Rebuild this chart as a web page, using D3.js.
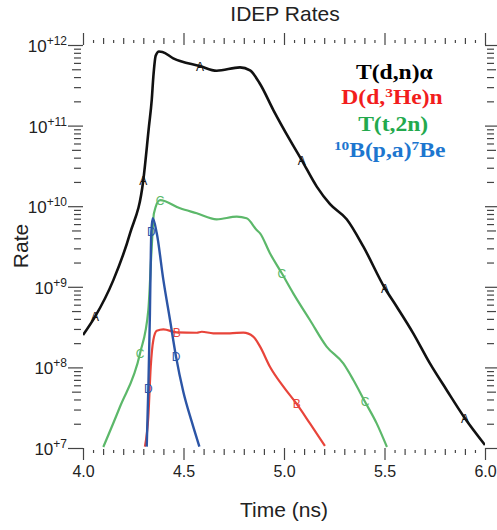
<!DOCTYPE html>
<html>
<head>
<meta charset="utf-8">
<script src="https://cdn.jsdelivr.net/npm/d3@7"></script>
<style>
  body { margin: 0; background: #fff; }
  svg { display: block; }
</style>
</head>
<body>
<svg width="497" height="530"></svg>
<script>
// time (ns) / rate values
const tdnTime = [4.000, 4.060, 4.151, 4.234, 4.300, 4.328, 4.342, 4.350, 4.362, 4.378, 4.395, 4.449, 4.582, 4.665, 4.781, 4.831,
                 4.881, 4.947, 5.030, 5.088, 5.163, 5.229, 5.312, 5.395, 5.502, 5.561, 5.643, 5.726, 5.809, 5.900, 6.000];
const tdnRate = [2.52e8, 4.26e8, 1.21e9, 4.6e9, 2.1e10, 9.7e10, 2.08e11, 4.05e11, 7.4e11, 8.3e11, 8.2e11, 6.84e11, 5.48e11, 4.80e11, 5.28e11, 4.83e11,
                 3.28e11, 1.56e11, 6.6e10, 3.74e10, 1.75e10, 1.06e10, 6.9e9, 3.15e9, 9.6e8, 5.66e8, 2.65e8, 1.12e8, 5.25e7, 2.34e7, 1.09e7];
const tdnMarks = [1, 4, 12, 19, 24, 29];

const ddTime = [4.308, 4.325, 4.337, 4.350, 4.367, 4.400, 4.466, 4.566, 4.591, 4.648, 4.731, 4.798, 4.847, 4.881, 4.930,
                4.997, 5.063, 5.129, 5.204];
const ddRate = [1.04e7, 2.44e7, 1.02e8, 2.19e8, 2.85e8, 2.97e8, 2.72e8, 2.69e8, 2.77e8, 2.65e8, 2.65e8, 2.70e8, 2.41e8, 1.81e8, 1.02e8,
                5.77e7, 3.52e7, 2.02e7, 1.06e7];
const ddMarks = [6, 16];

const ttTime = [4.101, 4.184, 4.284, 4.325, 4.342, 4.353, 4.383, 4.483, 4.566, 4.665, 4.765, 4.814, 4.864, 4.881, 4.930,
                4.989, 5.046, 5.129, 5.212, 5.295, 5.345, 5.403, 5.461, 5.512];
const ttRate = [1.03e7, 3.25e7, 1.50e8, 5.15e8, 3.15e9, 8.17e9, 1.19e10, 9.42e9, 8.17e9, 6.88e9, 7.41e9, 7.08e9, 5.07e9, 4.6e9, 2.61e9,
                1.47e9, 8.3e8, 3.87e8, 1.81e8, 1.12e8, 6.98e7, 3.75e7, 2.02e7, 1.03e7];
const ttMarks = [2, 6, 15, 21];

const bpTime = [4.317, 4.325, 4.333, 4.338, 4.340, 4.347, 4.367, 4.400, 4.433, 4.463, 4.499, 4.541, 4.579];
const bpRate = [1.04e7, 5.51e7, 4.69e8, 3.15e9, 4.83e9, 7.08e9, 4.61e9, 1.21e9, 3.87e8, 1.35e8, 5.0e7, 2.12e7, 1.04e7];
const bpMarks = [1, 4, 9];

const xMajor = [4.0, 4.5, 5.0, 5.5, 6.0];
const yMajor = [1e7, 1e8, 1e9, 1e10, 1e11, 1e12];

const series = [
    { time: tdnTime, rate: tdnRate, marks: tdnMarks, letter: 'A', color: '#111', width: 2.6 },
    { time: ttTime, rate: ttRate, marks: ttMarks, letter: 'C', color: '#5cb86a', width: 2.2 },
    { time: ddTime, rate: ddRate, marks: ddMarks, letter: 'B', color: '#e8443a', width: 2.2 },
    { time: bpTime, rate: bpRate, marks: bpMarks, letter: 'D', color: '#2c55a6', width: 2.4 }
];

function render() {
    const svg = d3.select('svg');
    const left = 83, right = 485, top = 45, bottom = 448;

    const x = d3.scaleLinear().domain([4, 6]).range([left, right]);
    const y = d3.scaleLog().domain([1e7, 1e12]).range([bottom, top]);

    // x ticks: every 0.05, longer every 0.1, longest every 0.5
    const xAll = x.ticks(40);
    const isMult = (v, s) => Math.abs(v / s - Math.round(v / s)) < 1e-6;
    const xMid = xAll.filter(v => isMult(v, 0.1) && !isMult(v, 0.5));
    const xSmall = xAll.filter(v => !isMult(v, 0.1));

    // log minor ticks 2..9 per decade
    const yMinor = [];
    yMajor.slice(0, -1).forEach(d => { for (let k = 2; k <= 9; k++) yMinor.push(d * k); });
    const yMid = yMinor.filter(v => Math.round(v / Math.pow(10, Math.floor(Math.log10(v) + 1e-9))) === 5);
    const ySmall = yMinor.filter(v => !yMid.includes(v));

    const tickStyle = g => {
        g.select('.domain').remove();
        g.selectAll('line').attr('stroke', '#444').attr('stroke-width', 1.2);
    };

    // bottom
    svg.append('g').attr('transform', `translate(0,${bottom})`)
        .call(d3.axisBottom(x).tickValues(xMajor).tickSize(12).tickPadding(6).tickFormat(d3.format('.1f')))
        .call(tickStyle)
        .selectAll('text').attr('font-family', 'Liberation Sans, Arial, sans-serif').attr('font-size', 16).attr('fill', '#222');
    svg.append('g').attr('transform', `translate(0,${bottom + 1})`)
        .call(d3.axisBottom(x).tickValues(xMid).tickSize(6).tickFormat('')).call(tickStyle);
    svg.append('g').attr('transform', `translate(0,${bottom + 2})`)
        .call(d3.axisBottom(x).tickValues(xSmall).tickSize(3).tickFormat('')).call(tickStyle);

    // top
    svg.append('g').attr('transform', `translate(0,${top})`)
        .call(d3.axisTop(x).tickValues(xMajor).tickSize(12).tickFormat('')).call(tickStyle);
    svg.append('g').attr('transform', `translate(0,${top - 1})`)
        .call(d3.axisTop(x).tickValues(xMid).tickSize(6).tickFormat('')).call(tickStyle);
    svg.append('g').attr('transform', `translate(0,${top - 2})`)
        .call(d3.axisTop(x).tickValues(xSmall).tickSize(3).tickFormat('')).call(tickStyle);

    // left
    svg.append('g').attr('transform', `translate(${left},0)`)
        .call(d3.axisLeft(y).tickValues(yMajor).tickSize(15).tickFormat('')).call(tickStyle);
    svg.append('g').attr('transform', `translate(${left - 2},0)`)
        .call(d3.axisLeft(y).tickValues(yMid).tickSize(9).tickFormat('')).call(tickStyle);
    svg.append('g').attr('transform', `translate(${left - 2},0)`)
        .call(d3.axisLeft(y).tickValues(ySmall).tickSize(7).tickFormat('')).call(tickStyle);

    // right
    svg.append('g').attr('transform', `translate(${right},0)`)
        .call(d3.axisRight(y).tickValues(yMajor).tickSize(14).tickFormat('')).call(tickStyle);
    svg.append('g').attr('transform', `translate(${right + 2},0)`)
        .call(d3.axisRight(y).tickValues(yMid).tickSize(9).tickFormat('')).call(tickStyle);
    svg.append('g').attr('transform', `translate(${right + 2},0)`)
        .call(d3.axisRight(y).tickValues(ySmall).tickSize(7).tickFormat('')).call(tickStyle);

    // y labels 10^+n
    const yLab = svg.append('g').selectAll('text').data(yMajor).enter().append('text')
        .attr('x', 67)
        .attr('y', d => y(d) + 7)
        .attr('text-anchor', 'end')
        .attr('font-family', 'Liberation Sans, Arial, sans-serif')
        .attr('fill', '#222');
    yLab.append('tspan').attr('font-size', 17).text('10');
    yLab.append('tspan').attr('font-size', 12).attr('dy', -7).text(d => '+' + Math.round(Math.log10(d)));

    // curves
    svg.append('clipPath').attr('id', 'plot')
        .append('rect').attr('x', left).attr('y', top).attr('width', right - left).attr('height', bottom - top);

    const line = d3.line()
        .x(d => x(d[0]))
        .y(d => y(d[1]))
        .curve(d3.curveMonotoneX);

    series.forEach(s => {
        const pts = s.time.map((t, i) => [t, s.rate[i]]);
        const g = svg.append('g').attr('clip-path', 'url(#plot)');
        g.append('path')
            .datum(pts)
            .attr('d', line)
            .attr('fill', 'none')
            .attr('stroke', s.color)
            .attr('stroke-width', s.width)
            .attr('stroke-linejoin', 'round');
        g.selectAll('text.mark')
            .data(s.marks.map(i => pts[i]))
            .enter()
            .append('text')
            .attr('class', 'mark')
            .attr('x', d => x(d[0]))
            .attr('y', d => y(d[1]) + 4.5)
            .attr('text-anchor', 'middle')
            .attr('font-family', 'Liberation Sans, Arial, sans-serif')
            .attr('font-size', 12)
            .attr('fill', s.color)
            .text(s.letter);
    });

    // titles
    svg.append('text').text('IDEP Rates')
        .attr('x', 285).attr('y', 21)
        .attr('text-anchor', 'middle')
        .attr('font-family', 'Liberation Sans, Arial, sans-serif')
        .attr('font-size', 21).attr('fill', '#222');
    svg.append('text').text('Time (ns)')
        .attr('x', 284).attr('y', 517)
        .attr('text-anchor', 'middle')
        .attr('font-family', 'Liberation Sans, Arial, sans-serif')
        .attr('font-size', 21).attr('fill', '#222');
    svg.append('text').text('Rate')
        .attr('transform', 'translate(28,246) rotate(-90)')
        .attr('text-anchor', 'middle')
        .attr('font-family', 'Liberation Sans, Arial, sans-serif')
        .attr('font-size', 21).attr('fill', '#222');

    // legend (slightly widened, like the original)
    const leg = svg.append('g')
        .attr('transform', 'translate(392,0) scale(1.18,1)')
        .attr('font-family', 'Liberation Serif, Times New Roman, serif')
        .attr('font-weight', 'bold')
        .attr('font-size', 20)
        .attr('text-anchor', 'middle');
    leg.append('text').attr('x', 2).attr('y', 79).attr('fill', '#000').text('T(d,n)α');
    const l2 = leg.append('text').attr('x', 0).attr('y', 104).attr('fill', '#f21d1d');
    l2.append('tspan').text('D(d,');
    l2.append('tspan').attr('font-size', 13).attr('dy', -7).text('3');
    l2.append('tspan').attr('dy', 7).text('He)n');
    leg.append('text').attr('x', 1).attr('y', 131).attr('fill', '#23a94d').text('T(t,2n)');
    const l4 = leg.append('text').attr('x', -2).attr('y', 157).attr('fill', '#1d76cf');
    l4.append('tspan').attr('font-size', 13).attr('dy', -7).text('10');
    l4.append('tspan').attr('dy', 7).text('B(p,a)');
    l4.append('tspan').attr('font-size', 13).attr('dy', -7).text('7');
    l4.append('tspan').attr('dy', 7).text('Be');
}

render();
</script>
</body>
</html>
